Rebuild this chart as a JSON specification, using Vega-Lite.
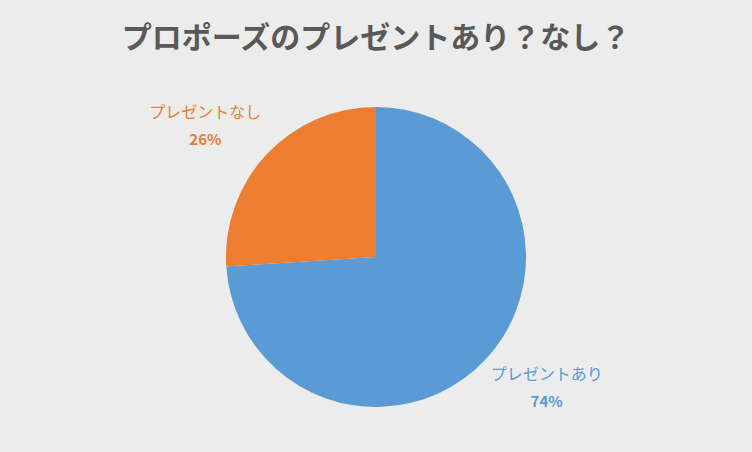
{
  "$schema": "https://vega.github.io/schema/vega-lite/v6.json",
  "width": 752,
  "height": 452,
  "autosize": {"type": "fit", "contains": "padding"},
  "padding": {"top": 24, "bottom": 0, "left": 0, "right": 0},
  "background": "#ECECEC",
  "title": {
    "text": "プロポーズのプレゼントあり？なし？",
    "anchor": "middle",
    "font": "Noto Sans CJK JP",
    "fontSize": 30,
    "fontWeight": "bold",
    "color": "#595959",
    "offset": 8
  },
  "data": {
    "values": [
      {"label": "プレゼントあり", "value": 74, "pct": "74%"},
      {"label": "プレゼントなし", "value": 26, "pct": "26%"}
    ]
  },
  "encoding": {
    "theta": {"field": "value", "type": "quantitative", "stack": true},
    "order": {"field": "value", "sort": "descending"},
    "color": {
      "field": "label",
      "type": "nominal",
      "legend": null,
      "scale": {
        "domain": ["プレゼントあり", "プレゼントなし"],
        "range": ["#5B9BD5", "#ED7D31"]
      }
    }
  },
  "layer": [
    {"mark": {"type": "arc", "outerRadius": 150, "stroke": null}},
    {
      "mark": {"type": "text", "radius": 215, "thetaOffset": -0.1, "dy": -13, "font": "Noto Sans CJK JP", "fontSize": 16},
      "encoding": {"text": {"field": "label"}}
    },
    {
      "mark": {"type": "text", "radius": 215, "thetaOffset": -0.1, "dy": 14, "font": "Noto Sans CJK JP", "fontSize": 15, "fontWeight": "bold"},
      "encoding": {"text": {"field": "pct"}}
    }
  ],
  "config": {
    "view": {"stroke": null}
  }
}
